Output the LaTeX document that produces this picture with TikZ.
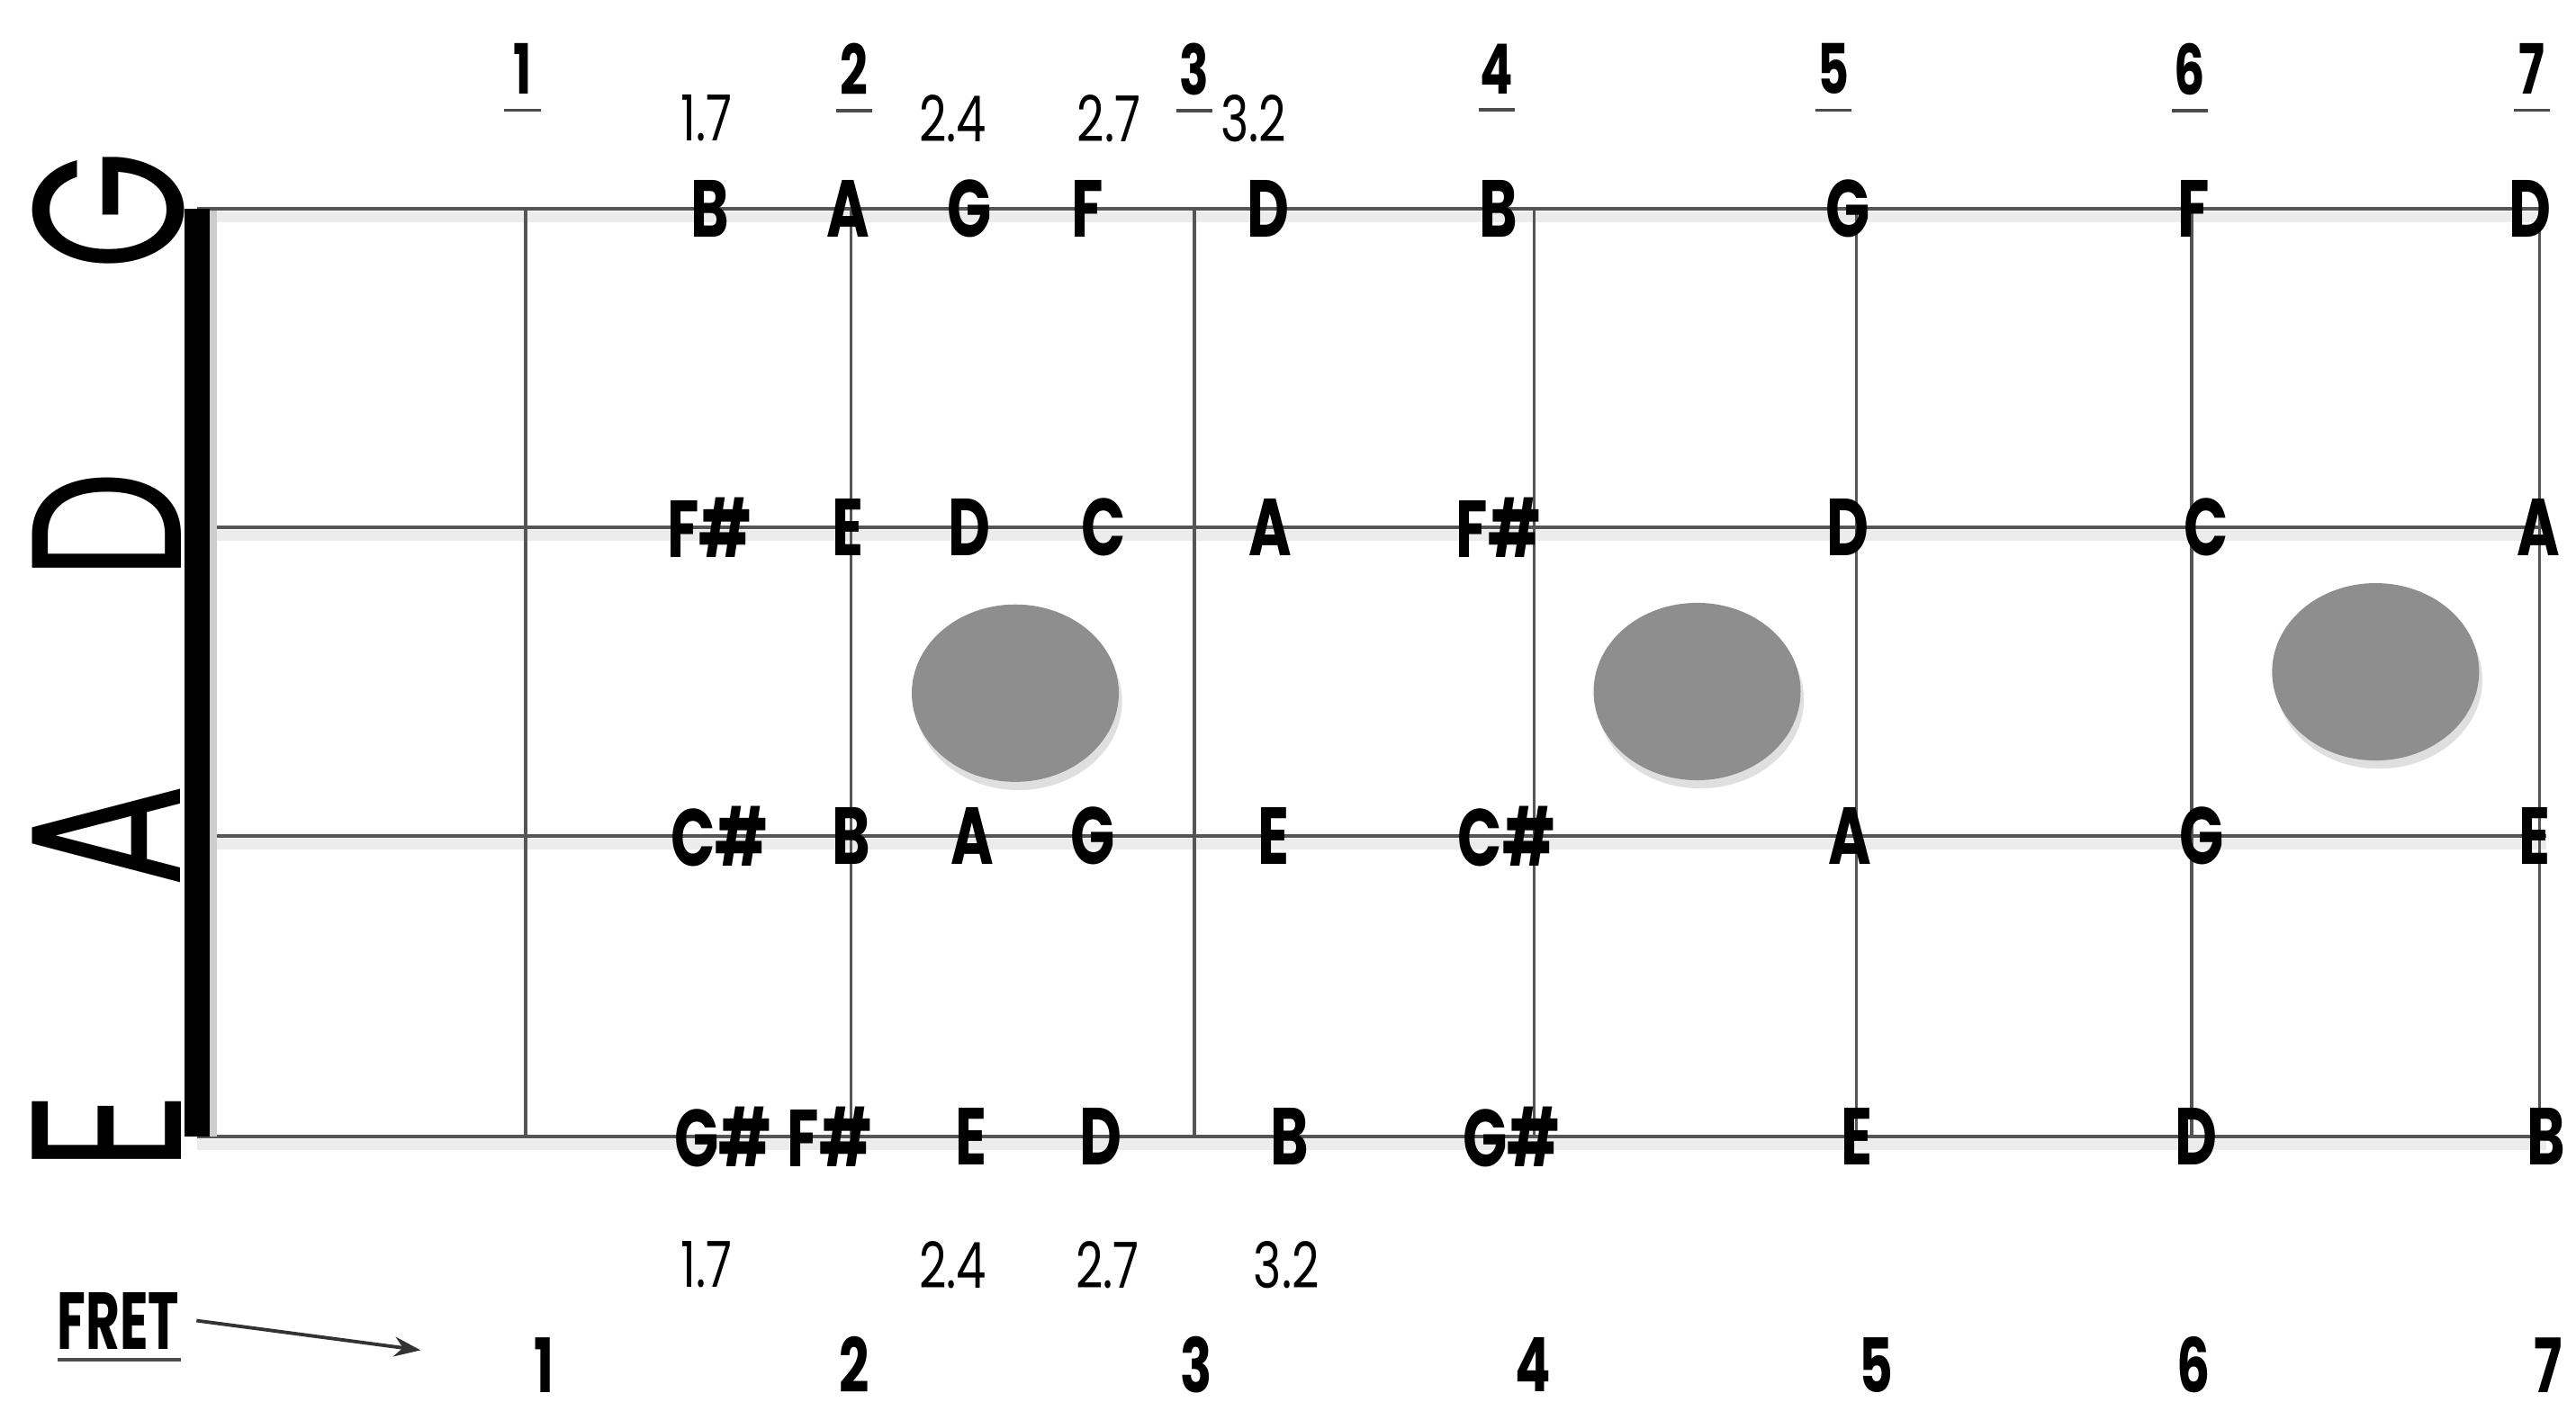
\documentclass[tikz,border=0pt]{standalone}
\usepackage{fontspec}
\setmainfont{Poppins}
\usetikzlibrary{arrows.meta,shadows}
\definecolor{wiregray}{RGB}{85,85,85}
\definecolor{dotgray}{RGB}{142,142,142}
\definecolor{shadegray}{RGB}{236,236,236}

\begin{document}
\begin{tikzpicture}[
  note/.style={font=\bfseries\fontsize{14}{14}\selectfont, xscale=0.72, inner sep=0pt},
  fretnum/.style={font=\bfseries\fontsize{12}{12}\selectfont, xscale=0.7, inner sep=0pt},
  posnum/.style={font=\fontsize{11}{11}\selectfont, xscale=0.75, inner sep=0pt},
  strname/.style={font=\fontsize{37}{37}\selectfont, rotate=90, inner sep=0pt},
  wire/.style={draw=wiregray, line width=0.6pt},
  fretline/.style={draw=wiregray, line width=0.5pt},
  shade/.style={draw=shadegray, line width=1.8pt},
  uline/.style={draw=black!70, line width=0.6pt},
  marker/.style={fill=dotgray, drop shadow={shadow xshift=0.02cm, shadow yshift=-0.05cm, opacity=0.25}}
]
\useasboundingbox (0,0) rectangle (15.68,-8.59);
\fill[white] (0,0) rectangle (15.68,-8.59);
\foreach \y/\id in {-1.27/g,-3.21/d,-5.09/a,-6.92/e} {
  \coordinate (\id0) at (1.20,\y);
  \coordinate (\id1) at (15.50,\y);
  \draw[shade] ([yshift=-0.5mm]\id0) -- ([yshift=-0.5mm]\id1);
  \draw[wire] (\id0) -- (\id1);
}
\foreach \x/\id in {3.20/1,5.18/2,7.27/3,9.34/4,11.30/5,13.34/6,15.46/7} {
  \coordinate (f\id t) at (\x,-1.27);
  \coordinate (f\id b) at (\x,-6.92);
  \draw[fretline] (f\id t) -- (f\id b);
}
\draw[black!20, line width=3pt] (1.27,-1.28) -- (1.27,-6.92);
\draw[black, line width=4.5pt] (g0) -- (e0);
\fill[marker] (6.18,-4.22) ellipse [x radius=0.63, y radius=0.54];
\fill[marker] (10.33,-4.21) ellipse [x radius=0.63, y radius=0.54];
\fill[marker] (14.46,-4.09) ellipse [x radius=0.63, y radius=0.54];
\node[strname] (sg) at (0.66,-1.28) {\scalebox{0.72}[1]{G}};
\node[strname] (sd) at (0.65,-3.20) {\scalebox{0.72}[1]{D}};
\node[strname] (sa) at (0.65,-5.09) {\scalebox{0.72}[1]{A}};
\node[strname] (se) at (0.65,-6.89) {\scalebox{0.72}[1]{E}};
\foreach \x/\n/\id in {4.32/B/1,5.16/A/2,5.90/G/3,6.62/F/4,7.72/D/5,9.12/B/6,11.25/G/7,13.35/F/8,15.40/D/9} {
  \node[note] (ng\id) at (\x,-1.27) {\n};
}
\foreach \x/\n/\id in {4.32/F\#/1,5.16/E/2,5.90/D/3,6.72/C/4,7.73/A/5,9.12/F\#/6,11.25/D/7,13.43/C/8,15.45/A/9} {
  \node[note] (nd\id) at (\x,-3.21) {\n};
}
\foreach \x/\n/\id in {4.38/C\#/1,5.18/B/2,5.92/A/3,6.65/G/4,7.75/E/5,9.17/C\#/6,11.26/A/7,13.40/G/8,15.43/E/9} {
  \node[note] (na\id) at (\x,-5.09) {\n};
}
\foreach \x/\n/\id in {4.40/G\#/1,5.05/F\#/2,5.91/E/3,6.70/D/4,7.85/B/5,9.20/G\#/6,11.30/E/7,13.37/D/8,15.50/B/9} {
  \node[note] (ne\id) at (\x,-6.92) {\n};
}
\foreach \x/\id in {3.18/1,5.20/2,7.27/3,9.11/4,11.16/5,13.33/6,15.41/7} {
  \node[fretnum] (top\id) at (\x,-0.42) {\id};
  \draw[uline] ([xshift=-1.1mm,yshift=-0.9mm]top\id.south) -- ([xshift=1.1mm,yshift=-0.9mm]top\id.south);
}
\foreach \x/\n/\id in {4.30/1.7/a,5.80/2.4/b,6.75/2.7/c,7.63/3.2/d} {
  \node[posnum] (tp\id) at (\x,-0.72) {\n};
}
\foreach \x/\n/\id in {4.30/1.7/a,5.80/2.4/b,6.74/2.7/c,7.83/3.2/d} {
  \node[posnum] (bp\id) at (\x,-7.70) {\n};
}
\foreach \x/\id in {3.31/1,5.20/2,7.28/3,9.33/4,11.42/5,13.35/6,15.51/7} {
  \node[fretnum, font=\bfseries\fontsize{13}{13}\selectfont] (bot\id) at (\x,-8.31) {\id};
}
\node[note, xscale=0.9] (fret) at (0.72,-8.04) {FRET};
\draw[uline] (0.35,-8.28) -- (1.10,-8.28);
\coordinate (fretend) at (2.56,-8.22);
\draw[black!80, line width=0.6pt, -{Stealth[length=1.6mm]}] ([xshift=1mm]fret.east) -- (fretend);
\end{tikzpicture}
\end{document}
